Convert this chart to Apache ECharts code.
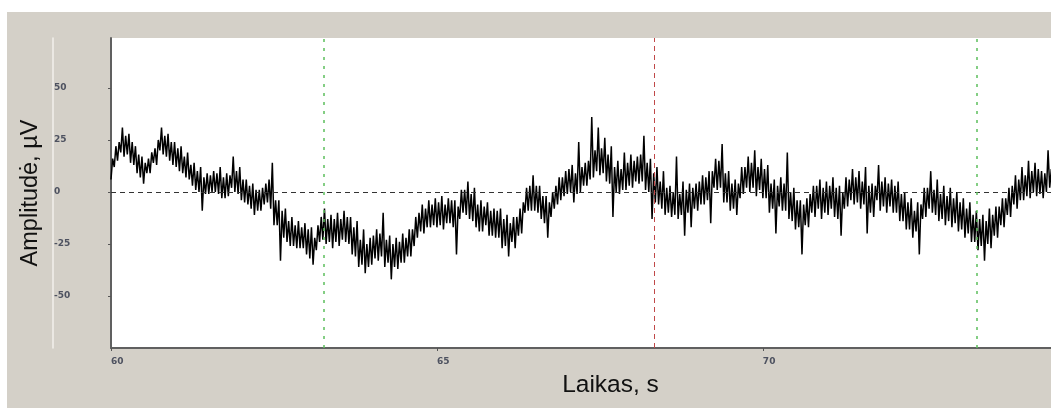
<!DOCTYPE html>
<html>
<head>
<meta charset="utf-8">
<script src="https://cdn.jsdelivr.net/npm/echarts@6/dist/echarts.min.js"></script>
<style>
  html, body { margin: 0; padding: 0; background: #ffffff; }
  #bg { position: absolute; left: 7px; top: 12px; width: 1044px; height: 396px; background: #d4d0c8; }
  #chart { position: absolute; left: 0; top: 0; width: 1051px; height: 408px; }
</style>
</head>
<body>
<div id="bg"></div>
<div id="chart"></div>
<script>
// Time axis of the recording (seconds) and sample step
const tStart = 60.0;
const tStep = 0.025;
// Amplitude readings (µV), one per time step
const amplitude = [
  6, 16, 12, 22, 15, 24, 19, 31, 17, 27, 18, 28, 14, 24, 13, 22, 9, 18, 7, 17,
  4, 14, 9, 16, 9, 19, 14, 21, 13, 25, 20, 31, 18, 27, 17, 28, 15, 24, 13, 24,
  12, 21, 10, 22, 9, 17, 7, 19, 6, 13, 3, 14, 1, 10, 0, 12, -9, 7, -1, 9,
  -1, 8, 0, 10, 0, 9, -1, 12, -3, 7, -3, 9, -2, 8, 2, 17, 0, 10, -1, 12,
  -4, 6, -5, 6, -6, 3, -8, 4, -11, 1, -9, 1, -9, 2, -6, 4, -5, 6, -8, 14,
  -16, -4, -16, -4, -33, -9, -22, -8, -24, -14, -26, -12, -26, -16, -27, -14, -27, -17, -27, -15,
  -30, -18, -32, -17, -35, -22, -28, -16, -24, -12, -23, -8, -25, -13, -24, -11, -27, -13, -24, -10,
  -26, -13, -23, -9, -24, -12, -25, -12, -30, -17, -31, -14, -36, -23, -35, -18, -39, -25, -36, -22,
  -35, -21, -32, -18, -33, -20, -31, -10, -36, -23, -34, -21, -42, -25, -36, -22, -37, -24, -34, -20,
  -34, -22, -31, -18, -31, -18, -26, -12, -22, -10, -19, -6, -20, -8, -17, -4, -17, -6, -16, -3,
  -17, -5, -16, -2, -18, -6, -15, -3, -15, -4, -17, -4, -30, -7, -13, 1, -10, 1, -11, 5,
  -13, -1, -14, 2, -17, -6, -19, -4, -19, -7, -16, -5, -21, -9, -21, -8, -22, -9, -22, -8,
  -27, -13, -26, -11, -31, -15, -24, -12, -27, -12, -21, -8, -20, -5, -10, 2, -9, 3, -9, 8,
  -9, 3, -10, 3, -13, -2, -15, -2, -22, -5, -12, 0, -8, 3, -6, 7, -4, 7, -2, 10,
  -1, 11, 0, 13, -5, 9, -1, 24, 0, 12, 3, 14, 3, 15, 6, 36, 7, 20, 10, 31,
  8, 21, 9, 26, 5, 18, 4, 22, -12, 12, 0, 15, -1, 11, 1, 19, 1, 14, 3, 18,
  2, 15, 5, 17, 4, 18, 5, 27, 1, 14, 0, 16, -13, 9, -5, 12, -6, 5, -8, 10,
  -11, 2, -10, 3, -12, 0, -11, 17, -13, -1, -11, 5, -21, 1, -10, 4, -17, 2, -8, 4,
  -9, 5, -6, 8, -6, 7, -4, 10, -15, 10, 2, 16, 1, 15, 2, 23, -5, 9, -5, 10,
  -9, 4, -8, 6, -11, 4, -3, 12, -1, 12, 2, 17, 0, 14, 2, 20, -2, 12, 1, 16,
  -3, 11, -3, 13, -10, 4, -8, 6, -20, 3, -7, 7, -9, 4, -9, 19, -13, 0, -14, 2,
  -18, -4, -17, -4, -30, -6, -16, -3, -17, -1, -10, 3, -12, 3, -8, 6, -13, 2, -10, 5,
  -11, 3, -8, 7, -12, 2, -13, 3, -21, 0, -8, 7, -7, 6, -4, 11, -6, 7, -5, 10,
  -8, 5, -6, 12, -20, 3, -10, 4, -12, 3, -4, 13, -9, 5, -7, 7, -10, 4, -7, 6,
  -10, 3, -10, 5, -14, -1, -14, 0, -18, -5, -18, -3, -22, -9, -19, -5, -30, -6, -13, 2,
  -12, 2, -8, 10, -10, 1, -11, 6, -14, -1, -13, 3, -16, -2, -14, 2, -17, -3, -15, 0,
  -19, -5, -18, -3, -22, -8, -20, -5, -24, -11, -24, -9, -28, -13, -26, -11, -33, -14, -25, -8,
  -27, -11, -21, -7, -22, -7, -16, -3, -17, -3, -11, 2, -12, 3, -6, 8, -8, 6, -4, 12,
  -4, 8, -2, 15, -3, 10, 0, 14, -2, 11, -1, 10, -3, 9, 0, 20, 2, 11
];
// Event markers (seconds)
const greenMarkers = [63.27, 73.28];
const redMarkers = [68.33];
// Axis settings
const xTicks = { min: 60, max: 74.42, interval: 5 };
const yTicks = { min: -75, max: 74, interval: 25 };

const seriesData = amplitude.map((v, i) => [tStart + i * tStep, v]);

const chart = echarts.init(document.getElementById('chart'), null, { renderer: 'canvas' });
const labelStyle = { color: '#4e5260', fontSize: 9, fontWeight: 'bold', fontFamily: 'DejaVu Sans' };

chart.setOption({
  animation: false,
  backgroundColor: 'transparent',
  grid: { left: 111, right: 0, top: 38, bottom: 60, show: true, backgroundColor: '#ffffff', borderWidth: 0 },
  xAxis: {
    type: 'value', min: xTicks.min, max: xTicks.max, interval: xTicks.interval,
    name: 'Laikas, s', nameLocation: 'middle', nameGap: 24.5,
    nameTextStyle: { fontSize: 24.5, color: '#111', fontFamily: 'Liberation Sans', padding: [0, 0, 0, 59] },
    axisLine: { show: true, onZero: false, lineStyle: { color: '#606060', width: 2 } },
    axisTick: { show: true, length: 3, lineStyle: { color: '#555' } },
    axisLabel: Object.assign({ margin: 9, align: 'left', showMaxLabel: false }, labelStyle),
    splitLine: { show: false }
  },
  yAxis: [{
    type: 'value', min: yTicks.min, max: yTicks.max, interval: yTicks.interval,
    name: 'Amplitudė, µV', nameLocation: 'middle', nameGap: 68,
    nameTextStyle: { fontSize: 23.5, color: '#111', fontFamily: 'Liberation Sans' },
    axisLine: { show: true, onZero: false, lineStyle: { color: '#606060', width: 2 } },
    axisTick: { show: true, length: 3, lineStyle: { color: '#555' } },
    axisLabel: Object.assign({ margin: 57, align: 'left', showMinLabel: false, showMaxLabel: false }, labelStyle),
    splitLine: { show: false }
  }, {
    type: 'value', min: yTicks.min, max: yTicks.max, interval: yTicks.interval,
    position: 'left', offset: 58,
    axisLine: { show: true, onZero: false, lineStyle: { color: '#f3f1ec', width: 1.5 } },
    axisTick: { show: false }, axisLabel: { show: false }, splitLine: { show: false }
  }],
  series: [{
    type: 'line',
    data: seriesData,
    showSymbol: false,
    symbol: 'none',
    sampling: 'none',
    clip: true,
    lineStyle: { color: '#000000', width: 1.5 },
    z: 3,
    markLine: {
      silent: true, symbol: 'none', label: { show: false },
      data: [
        { yAxis: 0, lineStyle: { color: '#333333', type: [5, 4], width: 1 } },
        ...greenMarkers.map(x => ({ xAxis: x, lineStyle: { color: '#5cbf5c', type: [3, 6], width: 1.5 } })),
        ...redMarkers.map(x => ({ xAxis: x, lineStyle: { color: '#c04848', type: [5, 4], width: 1 } }))
      ]
    }
  }]
});
</script>
</body>
</html>
